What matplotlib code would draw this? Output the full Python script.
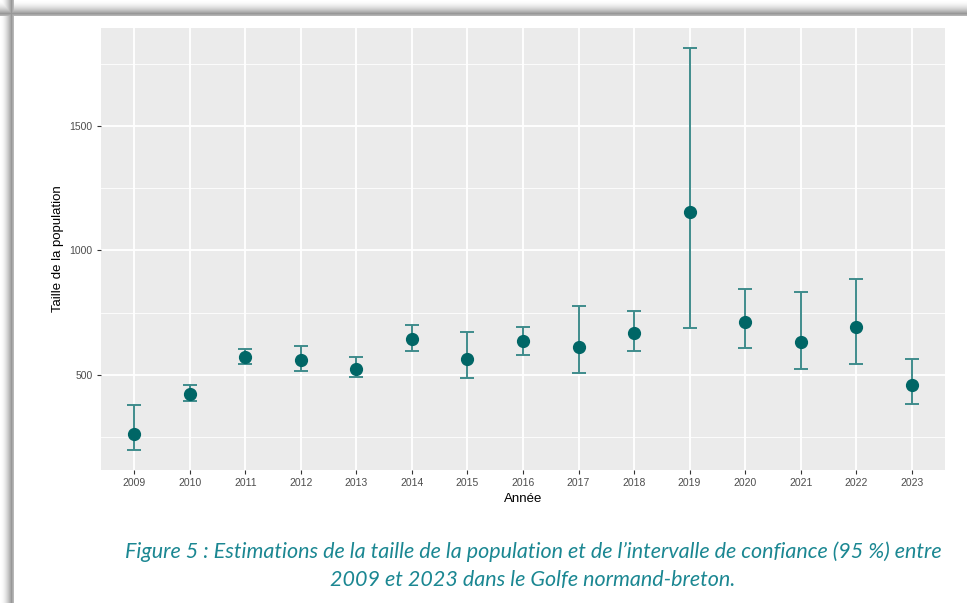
import numpy as np
import matplotlib.pyplot as plt
from matplotlib.ticker import MultipleLocator

# Estimations
annees = [2009, 2010, 2011, 2012, 2013, 2014, 2015, 2016, 2017, 2018, 2019, 2020, 2021, 2022, 2023]
taille = [262, 424, 570, 561, 525, 643, 563, 637, 612, 667, 1153, 712, 633, 693, 461]
ic_bas = [198, 394, 543, 516, 491, 595, 488, 580, 509, 595, 690, 607, 525, 543, 382]
ic_haut = [377, 460, 602, 614, 572, 700, 673, 694, 776, 757, 1814, 847, 835, 884, 563]

plt.rcParams['font.family'] = ['Liberation Sans', 'DejaVu Sans']

W, H = 967, 603
fig = plt.figure(figsize=(W / 100, H / 100), dpi=100)
fig.patch.set_facecolor('white')

# cadre avec ombre (haut et gauche), transparent ailleurs
yy = np.arange(H)[:, None] * np.ones((1, W))
xx = np.arange(W)[None, :] * np.ones((H, 1))
band = np.maximum(np.where(yy < 16, 1 - np.abs(yy - 13) / 13, 0),
                  np.where(xx < 14, 1 - np.abs(xx - 11) / 11, 0))
band = np.clip(band, 0, 1) ** 1.8
rgba = np.zeros((H, W, 4))
rgba[..., :3] = 0.5
rgba[..., 3] = band * 0.8
fig.figimage(rgba, xo=0, yo=0, origin='upper', zorder=5)

ax = fig.add_axes([101 / W, 1 - 470 / H, (945 - 101) / W, (470 - 28) / H])
ax.set_facecolor('#EBEBEB')

x = np.arange(len(annees))
taille = np.array(taille)
err = [taille - np.array(ic_bas), np.array(ic_haut) - taille]
ax.errorbar(x, taille, yerr=err, fmt='none', ecolor='#3F8C8C', elinewidth=1.4,
            capsize=5, capthick=1.4, zorder=3)
ax.plot(x, taille, 'o', color='#006666', ms=8.5, zorder=4)

lo, hi = min(ic_bas), max(ic_haut)
pad = (hi - lo) * 0.05
ax.set_ylim(lo - pad, hi + pad)
ax.set_xlim(-0.6, len(annees) - 0.4)

ax.set_xticks(x)
ax.set_xticklabels([str(a) for a in annees])
ax.yaxis.set_minor_locator(MultipleLocator(250))
ax.set_yticks([500, 1000, 1500])

ax.grid(which='major', color='white', linewidth=1.3)
ax.grid(which='minor', axis='y', color='white', linewidth=0.6)
ax.set_axisbelow(True)
for s in ax.spines.values():
    s.set_visible(False)
ax.tick_params(which='major', length=3, width=0.8, color='#333333', labelcolor='#4D4D4D',
               labelsize=7.5, pad=3)
ax.tick_params(which='minor', length=0)

ax.set_xlabel('Année', fontsize=9.5, color='black', labelpad=3)
ax.set_ylabel('Taille de la population', fontsize=9.5, color='black', labelpad=4)

cap_style = dict(ha='center', va='center', fontsize=15.5, style='italic', family='Lato', color='#1B8792')
fig.text(533 / W, 1 - 552 / H,
         'Figure 5 : Estimations de la taille de la population et de l\u2019intervalle de confiance (95 %) entre',
         **cap_style)
fig.text(533 / W, 1 - 580 / H, '2009 et 2023 dans le Golfe normand-breton.', **cap_style)

fig.savefig('out.png', dpi=100)
